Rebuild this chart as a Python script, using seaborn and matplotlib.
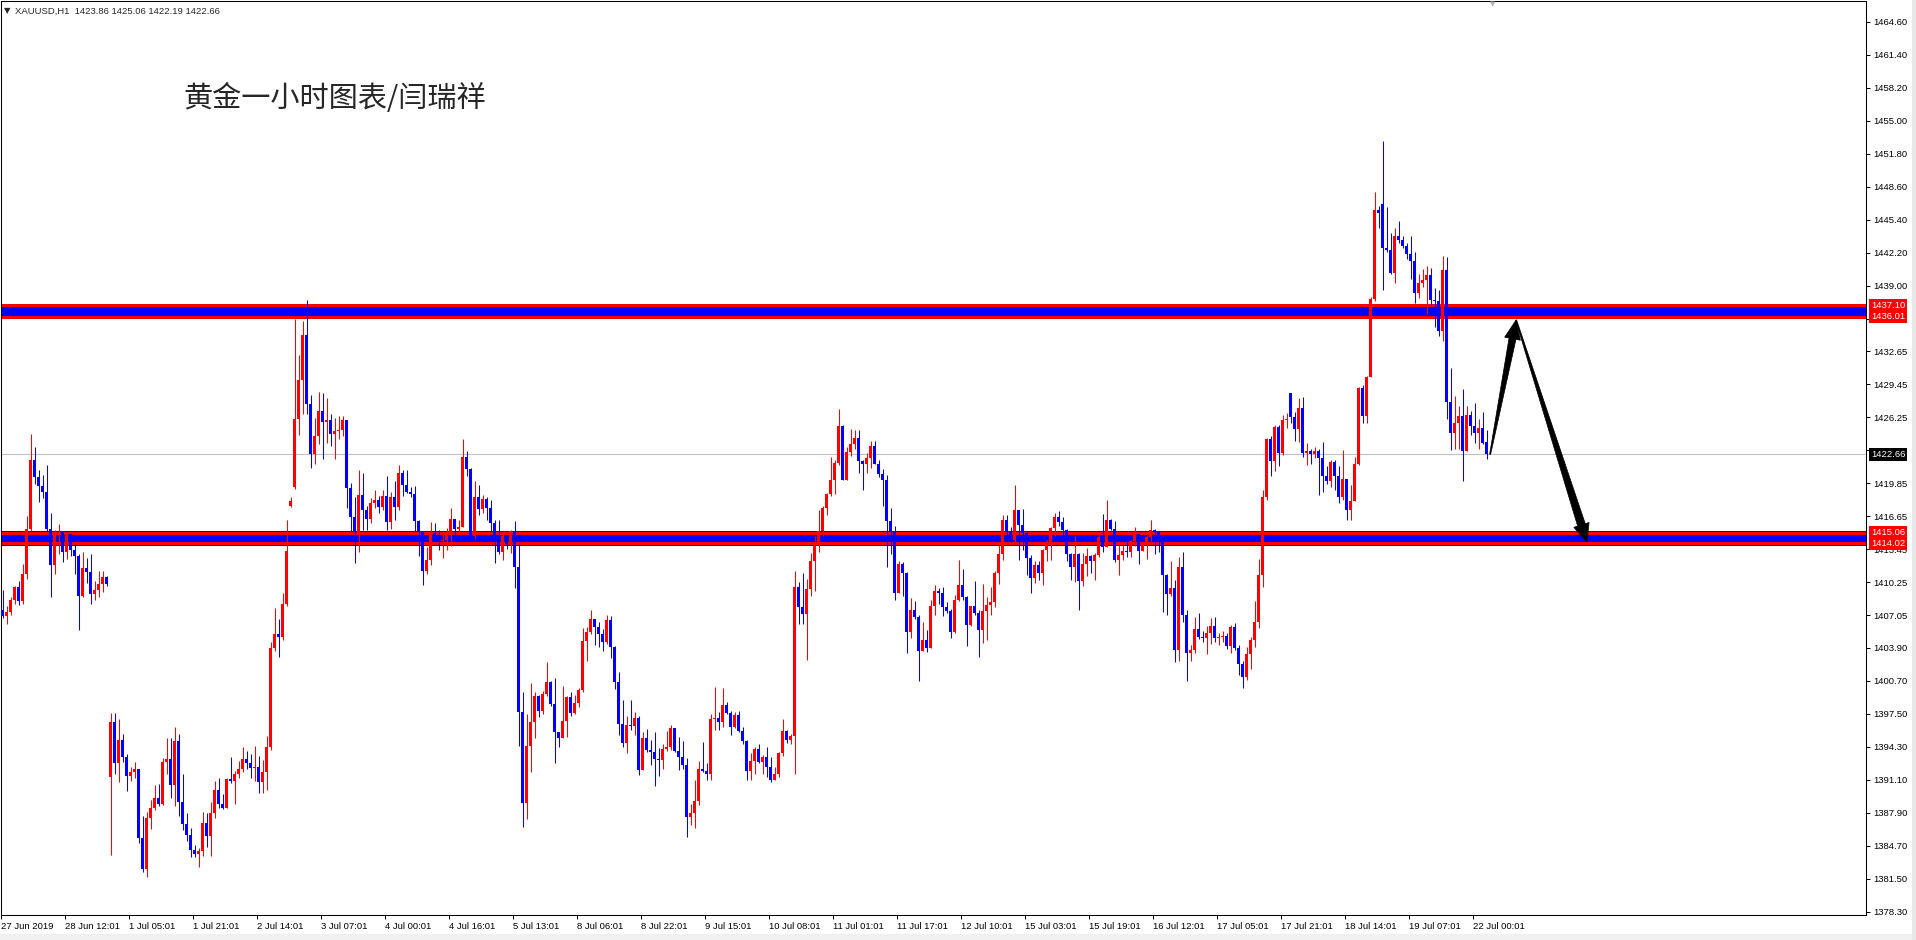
import matplotlib
matplotlib.use("Agg")
import matplotlib.pyplot as plt
import numpy as np
import pandas as pd
import seaborn as sns
from matplotlib.patches import Polygon, Rectangle
from matplotlib.transforms import IdentityTransform

# XAUUSD H1, one value per hourly bar (open = previous close unless listed)
closes = [
    1407.0, 1407.4, 1408.5, 1409.8, 1408.4, 1411.1, 1415.4, 1422.1, 1420.5, 1419.6,
    1419.0, 1415.4, 1411.9, 1414.9, 1415.1, 1413.2, 1414.9, 1413.4, 1412.8, 1408.9,
    1411.6, 1411.3, 1409.1, 1409.5, 1410.1, 1410.8, 1410.1, 1396.7, 1392.7, 1395.0,
    1393.3, 1391.5, 1391.9, 1392.2, 1385.5, 1382.5, 1387.4, 1388.4, 1389.3, 1388.8,
    1392.8, 1393.1, 1390.6, 1394.9, 1389.0, 1386.8, 1385.8, 1384.3, 1383.9, 1384.2,
    1386.9, 1385.7, 1387.9, 1390.1, 1388.8, 1388.4, 1391.2, 1391.0, 1391.7, 1392.2,
    1393.1, 1392.7, 1392.3, 1392.4, 1390.9, 1391.9, 1394.3, 1403.9, 1405.2, 1405.0,
    1408.2, 1413.3, 1418.1, 1426.1, 1429.9, 1434.2, 1427.5, 1422.7, 1424.4, 1426.9,
    1425.8, 1426.0, 1424.6, 1424.9, 1425.0, 1426.0, 1419.4, 1416.6, 1415.1, 1418.7,
    1417.3, 1416.4, 1417.9, 1418.2, 1417.6, 1418.6, 1416.1, 1418.5, 1417.6, 1420.9,
    1419.7, 1419.0, 1418.8, 1416.2, 1415.2, 1411.4, 1412.4, 1415.0, 1414.5, 1414.3,
    1414.4, 1414.9, 1416.4, 1415.4, 1415.6, 1422.4, 1421.2, 1414.7, 1418.5, 1417.4,
    1418.3, 1417.5, 1416.0, 1414.7, 1413.2, 1414.7, 1414.0, 1415.2, 1411.7, 1397.7,
    1388.9, 1394.4, 1396.7, 1399.2, 1397.8, 1399.4, 1400.6, 1398.5, 1395.7, 1395.2,
    1396.8, 1399.1, 1397.6, 1398.6, 1399.8, 1404.6, 1405.4, 1406.7, 1405.9, 1405.2,
    1404.5, 1406.6, 1404.0, 1400.6, 1396.5, 1394.7, 1396.4, 1396.3, 1397.1, 1392.1,
    1395.2, 1394.0, 1393.8, 1393.1, 1393.0, 1394.1, 1394.3, 1396.1, 1393.9, 1393.3,
    1392.5, 1387.5, 1387.9, 1389.1, 1392.2, 1392.0, 1391.7, 1397.0, 1397.1, 1396.7,
    1398.4, 1397.6, 1396.2, 1397.4, 1395.8, 1394.9, 1392.0, 1392.9, 1394.1, 1392.8,
    1393.3, 1392.4, 1391.1, 1391.7, 1393.7, 1395.8, 1395.0, 1395.4, 1409.8, 1407.9,
    1407.2, 1409.6, 1412.3, 1413.9, 1415.2, 1417.5, 1418.8, 1420.2, 1421.8, 1425.4,
    1420.2, 1422.9, 1423.7, 1424.2, 1422.0, 1421.7, 1422.3, 1423.5, 1421.7, 1420.8,
    1420.2, 1416.2, 1415.2, 1409.2, 1412.0, 1411.2, 1405.4, 1407.6, 1406.9, 1403.6,
    1404.7, 1403.9, 1408.0, 1409.4, 1409.2, 1407.9, 1407.5, 1405.4, 1408.5, 1410.0,
    1408.8, 1406.1, 1408.0, 1407.3, 1405.6, 1407.5, 1408.1, 1408.3, 1411.2, 1413.0,
    1416.3, 1415.2, 1414.4, 1417.3, 1415.8, 1415.0, 1412.6, 1410.7, 1411.9, 1411.2,
    1413.4, 1413.9, 1415.5, 1416.6, 1416.1, 1415.3, 1413.0, 1411.7, 1413.0, 1410.4,
    1412.0, 1412.8, 1412.3, 1412.9, 1414.6, 1413.7, 1416.3, 1415.4, 1412.4, 1412.9,
    1413.3, 1413.2, 1414.3, 1414.9, 1413.3, 1413.9, 1414.6, 1415.3, 1415.1, 1414.7,
    1411.0, 1409.1, 1409.7, 1403.7, 1411.7, 1407.1, 1403.4, 1403.7, 1405.7, 1405.0,
    1404.9, 1405.3, 1406.0, 1404.9, 1405.0, 1405.1, 1404.1, 1405.9, 1403.9, 1402.3,
    1401.1, 1403.3, 1404.7, 1406.4, 1411.0, 1418.5, 1424.1, 1422.0, 1425.3, 1422.8,
    1426.0, 1426.1, 1426.3, 1425.1, 1427.2, 1422.8, 1423.0, 1422.7, 1423.0, 1422.3,
    1420.6, 1420.1, 1421.9, 1420.6, 1418.5, 1420.3, 1417.3, 1418.1, 1421.7, 1429.1,
    1426.4, 1430.2, 1437.7, 1446.3, 1446.1, 1442.7, 1442.5, 1440.2, 1443.8, 1443.4,
    1442.9, 1442.1, 1441.4, 1438.3, 1439.3, 1439.6, 1440.0, 1437.6, 1437.5, 1434.6,
    1440.5, 1427.7, 1424.7, 1425.7, 1426.4, 1423.0, 1426.5, 1425.4, 1424.7, 1425.2,
    1423.8, 1422.66,
]
highs = [
    1409.5, 1408.0, 1408.8, 1409.9, 1410.4, 1412.0, 1416.7, 1424.6, 1423.4, 1421.1,
    1420.7, 1421.6, 1417.0, 1415.3, 1415.9, 1414.9, 1415.0, 1414.3, 1414.0, 1413.0,
    1413.2, 1412.6, 1413.0, 1410.4, 1411.4, 1411.4, 1410.9, 1397.6, 1397.6, 1397.0,
    1395.6, 1393.6, 1392.4, 1392.8, 1392.2, 1387.6, 1388.0, 1389.2, 1390.6, 1390.7,
    1393.2, 1395.2, 1395.2, 1396.2, 1395.6, 1391.7, 1387.9, 1386.4, 1384.8, 1384.5,
    1388.0, 1387.9, 1389.0, 1391.0, 1391.3, 1389.7, 1391.3, 1393.3, 1392.0, 1392.9,
    1394.3, 1393.9, 1393.6, 1394.4, 1393.4, 1393.0, 1395.4, 1404.5, 1407.8, 1406.7,
    1409.2, 1416.3, 1418.5, 1435.8, 1432.3, 1435.6, 1437.6, 1428.4, 1426.2, 1428.7,
    1428.6, 1428.1, 1426.6, 1426.2, 1426.4, 1426.4, 1426.0, 1419.9, 1418.5, 1421.1,
    1420.9, 1417.7, 1418.4, 1419.2, 1418.6, 1419.2, 1420.6, 1419.0, 1420.1, 1421.6,
    1421.1, 1421.1, 1419.5, 1419.6, 1416.3, 1415.2, 1413.7, 1416.1, 1416.0, 1415.3,
    1414.9, 1415.5, 1417.5, 1416.4, 1416.3, 1424.1, 1423.0, 1421.3, 1420.1, 1419.7,
    1418.7, 1418.5, 1418.2, 1416.3, 1416.3, 1415.0, 1414.5, 1415.3, 1416.2, 1413.9,
    1399.6, 1397.5, 1400.5, 1399.6, 1399.3, 1399.7, 1402.5, 1400.7, 1401.0, 1395.6,
    1400.2, 1399.2, 1399.6, 1399.3, 1400.0, 1405.8, 1405.9, 1407.6, 1406.7, 1406.4,
    1405.7, 1407.1, 1407.0, 1404.1, 1401.6, 1398.8, 1397.3, 1398.8, 1397.7, 1397.3,
    1395.7, 1396.0, 1395.0, 1395.7, 1394.2, 1394.6, 1395.8, 1396.4, 1396.1, 1395.3,
    1394.9, 1393.2, 1388.8, 1391.1, 1392.9, 1394.8, 1392.7, 1397.5, 1400.1, 1397.7,
    1400.0, 1398.7, 1397.8, 1397.7, 1397.8, 1396.2, 1395.0, 1393.7, 1394.3, 1394.6,
    1393.5, 1394.3, 1393.3, 1392.4, 1393.8, 1397.0, 1395.9, 1395.6, 1411.4, 1410.3,
    1411.2, 1410.6, 1413.1, 1414.7, 1417.3, 1417.7, 1418.9, 1422.4, 1422.1, 1427.1,
    1425.5, 1423.4, 1425.1, 1425.0, 1425.0, 1422.1, 1422.8, 1424.0, 1424.0, 1422.1,
    1421.2, 1420.7, 1417.5, 1415.7, 1412.3, 1412.2, 1411.3, 1408.7, 1408.4, 1407.1,
    1406.4, 1405.6, 1408.5, 1410.0, 1409.7, 1409.8, 1408.3, 1407.7, 1409.0, 1412.4,
    1411.5, 1408.9, 1408.0, 1410.4, 1407.6, 1410.1, 1408.8, 1409.8, 1411.4, 1413.9,
    1416.8, 1416.8, 1415.6, 1419.7, 1417.3, 1417.4, 1415.2, 1412.9, 1412.3, 1412.3,
    1413.5, 1414.4, 1415.6, 1417.0, 1417.2, 1416.6, 1415.4, 1413.1, 1414.7, 1413.1,
    1413.1, 1413.6, 1412.9, 1413.1, 1415.2, 1416.9, 1418.2, 1416.4, 1416.2, 1414.3,
    1413.9, 1414.4, 1414.4, 1415.6, 1414.7, 1414.3, 1414.8, 1416.3, 1415.4, 1415.2,
    1414.7, 1411.1, 1412.3, 1410.5, 1412.7, 1413.2, 1407.6, 1404.2, 1406.9, 1407.3,
    1405.5, 1406.0, 1406.8, 1406.9, 1405.3, 1405.5, 1405.3, 1406.1, 1406.3, 1404.2,
    1402.6, 1404.0, 1405.0, 1408.4, 1412.5, 1419.2, 1424.2, 1424.4, 1425.5, 1425.5,
    1426.5, 1426.7, 1428.6, 1426.8, 1428.1, 1428.2, 1423.8, 1423.2, 1423.4, 1423.2,
    1423.9, 1421.5, 1422.1, 1422.1, 1421.5, 1423.1, 1420.3, 1419.7, 1422.4, 1429.2,
    1429.4, 1430.3, 1437.9, 1448.1, 1446.7, 1453.0, 1446.6, 1444.1, 1444.6, 1445.3,
    1443.8, 1443.1, 1443.8, 1442.3, 1440.1, 1440.6, 1440.9, 1440.7, 1438.8, 1438.6,
    1441.9, 1441.8, 1431.0, 1428.3, 1427.3, 1429.0, 1427.3, 1426.9, 1427.6, 1426.1,
    1426.8, 1425.06,
]
lows = [
    1406.8, 1406.2, 1407.1, 1408.2, 1408.1, 1408.2, 1410.6, 1415.2, 1419.8, 1418.0,
    1418.4, 1415.2, 1408.8, 1411.1, 1413.0, 1412.2, 1412.5, 1412.8, 1411.1, 1405.6,
    1408.8, 1410.2, 1408.2, 1408.5, 1408.8, 1409.3, 1409.9, 1383.8, 1391.7, 1390.9,
    1392.8, 1390.0, 1391.0, 1391.3, 1385.0, 1382.2, 1381.7, 1386.3, 1388.2, 1388.6,
    1388.7, 1391.7, 1389.3, 1388.6, 1387.6, 1386.2, 1385.2, 1383.6, 1383.6, 1382.7,
    1383.7, 1384.6, 1383.7, 1387.4, 1388.4, 1388.3, 1388.4, 1390.8, 1388.8, 1391.3,
    1391.9, 1392.2, 1391.3, 1391.0, 1389.8, 1389.8, 1390.1, 1394.0, 1403.6, 1403.0,
    1404.7, 1408.0, 1417.6, 1419.3, 1424.5, 1426.6, 1426.6, 1421.3, 1421.7, 1423.7,
    1422.2, 1423.8, 1423.5, 1422.2, 1424.1, 1424.4, 1417.5, 1415.2, 1412.1, 1413.2,
    1415.3, 1415.3, 1416.0, 1417.5, 1417.0, 1417.3, 1415.3, 1415.4, 1416.3, 1417.3,
    1418.6, 1418.9, 1418.5, 1415.2, 1412.8, 1410.0, 1411.1, 1411.9, 1414.3, 1413.4,
    1412.6, 1413.4, 1413.8, 1414.7, 1415.0, 1415.6, 1420.6, 1414.7, 1414.5, 1416.8,
    1417.0, 1416.3, 1415.2, 1412.1, 1413.0, 1412.4, 1413.5, 1413.1, 1409.7, 1394.4,
    1386.5, 1387.3, 1391.9, 1395.2, 1397.2, 1397.5, 1399.2, 1398.3, 1392.7, 1394.3,
    1395.2, 1395.3, 1397.3, 1397.5, 1398.2, 1399.6, 1402.6, 1405.2, 1404.2, 1404.0,
    1403.6, 1404.3, 1402.9, 1399.9, 1395.5, 1394.3, 1393.7, 1395.9, 1395.5, 1391.6,
    1392.1, 1393.8, 1392.5, 1390.5, 1391.5, 1392.2, 1393.9, 1394.0, 1393.8, 1392.1,
    1392.2, 1385.6, 1386.7, 1386.4, 1388.7, 1391.9, 1391.1, 1391.1, 1395.9, 1395.9,
    1396.2, 1397.5, 1395.5, 1396.1, 1395.7, 1394.6, 1391.1, 1391.1, 1391.7, 1392.7,
    1391.7, 1391.4, 1390.9, 1391.1, 1391.4, 1393.4, 1394.7, 1394.6, 1391.7, 1406.2,
    1406.2, 1402.7, 1408.9, 1409.4, 1413.2, 1414.7, 1416.8, 1418.6, 1418.8, 1421.6,
    1420.2, 1420.2, 1422.5, 1423.2, 1420.9, 1419.2, 1420.9, 1421.3, 1421.7, 1420.5,
    1417.7, 1411.7, 1413.0, 1408.5, 1409.2, 1408.9, 1403.4, 1404.9, 1406.7, 1400.7,
    1403.7, 1403.5, 1403.9, 1407.1, 1408.2, 1407.0, 1407.3, 1404.9, 1405.3, 1408.4,
    1408.5, 1404.1, 1406.0, 1407.1, 1403.0, 1404.4, 1404.7, 1407.1, 1407.9, 1410.1,
    1412.4, 1414.3, 1414.2, 1414.2, 1412.4, 1413.4, 1411.0, 1409.2, 1410.2, 1410.5,
    1410.0, 1412.3, 1412.4, 1414.7, 1415.7, 1414.6, 1412.3, 1410.5, 1410.3, 1407.6,
    1409.9, 1410.9, 1411.2, 1410.5, 1412.7, 1413.2, 1413.7, 1415.3, 1412.2, 1411.0,
    1412.4, 1412.7, 1412.7, 1413.8, 1412.0, 1413.3, 1412.5, 1414.3, 1413.0, 1413.2,
    1407.4, 1407.1, 1408.9, 1402.5, 1402.6, 1406.4, 1400.7, 1402.6, 1403.4, 1404.8,
    1404.5, 1403.3, 1404.3, 1404.5, 1404.2, 1404.5, 1403.8, 1403.4, 1403.7, 1401.3,
    1400.0, 1400.8, 1401.9, 1404.0, 1405.8, 1409.8, 1418.2, 1420.6, 1421.0, 1421.5,
    1422.6, 1425.2, 1425.7, 1424.0, 1423.9, 1422.4, 1421.6, 1421.7, 1422.3, 1418.7,
    1419.0, 1419.8, 1419.5, 1419.2, 1417.9, 1418.2, 1416.3, 1416.3, 1418.1, 1421.6,
    1425.7, 1425.7, 1430.2, 1437.5, 1444.6, 1438.6, 1442.3, 1440.1, 1439.3, 1443.1,
    1442.7, 1441.6, 1439.7, 1437.3, 1437.8, 1438.9, 1436.3, 1437.1, 1435.0, 1434.1,
    1433.6, 1426.1, 1423.1, 1423.2, 1423.2, 1420.1, 1423.0, 1424.5, 1423.8, 1423.2,
    1423.7, 1422.19,
]
# opens that differ from the previous close (first bar, gaps, last bar)
open_overrides = {0: 1407.6, 27: 1391.4, 72: 1417.7, 73: 1419.5,
                  322: 1428.6, 345: 1446.9, 371: 1423.86}

price_ticks = [1464.60, 1461.40, 1458.20, 1455.00, 1451.80, 1448.60, 1445.40,
               1442.20, 1439.00, 1435.80, 1432.65, 1429.45, 1426.25, 1423.05,
               1419.85, 1416.65, 1413.45, 1410.25, 1407.05, 1403.90, 1400.70,
               1397.50, 1394.30, 1391.10, 1387.90, 1384.70, 1381.50, 1378.30]
time_tick_bars = list(range(0, 369, 16))
time_tick_labels = ["27 Jun 2019", "28 Jun 12:01", "1 Jul 05:01", "1 Jul 21:01",
                    "2 Jul 14:01", "3 Jul 07:01", "4 Jul 00:01", "4 Jul 16:01",
                    "5 Jul 13:01", "8 Jul 06:01", "8 Jul 22:01", "9 Jul 15:01",
                    "10 Jul 08:01", "11 Jul 01:01", "11 Jul 17:01", "12 Jul 10:01",
                    "15 Jul 03:01", "15 Jul 19:01", "16 Jul 12:01", "17 Jul 05:01",
                    "17 Jul 21:01", "18 Jul 14:01", "19 Jul 07:01", "22 Jul 00:01"]
resistance = (1437.10, 1436.01)
support = (1415.06, 1414.02)
last_price = 1422.66
# projected path: from last bar up to resistance, then down to support
path_bars = [371.9, 378.4, 396.1]
path_prices = [1422.66, 1435.68, 1414.16]

title = "黄金一小时图表/闫瑞祥"
header = "XAUUSD,H1  1423.86 1425.06 1422.19 1422.66"

n = len(closes)
opens = [open_overrides.get(i, closes[i - 1] if i else closes[0]) for i in range(n)]
df = pd.DataFrame({"bar": np.arange(n), "open": opens, "high": highs,
                   "low": lows, "close": closes})
df["high"] = df[["high", "open", "close"]].max(axis=1)
df["low"] = df[["low", "open", "close"]].min(axis=1)
df["up"] = df["close"] >= df["open"]

sns.set_style("white")
plt.rcParams["font.family"] = ["Liberation Sans", "DejaVu Sans"]

W, H = 1916, 940
fig = plt.figure(figsize=(W / 100, H / 100), dpi=100)
ax = fig.add_axes([1 / W, 1 - 915 / H, 1865 / W, 914 / H])
ax.set_xlim(-0.375, -0.375 + 1865 / 4)
ax.set_ylim(1378.006, 1466.607)

RED, BLUE = "#ff0000", "#0000ff"
colors = np.where(df["up"], RED, BLUE)

# zones (drawn under the candles)
for hi, lo in (resistance, support):
    ax.axhspan(lo - 0.25, hi + 0.15, color=BLUE, lw=0, zorder=1)
    ax.axhline(hi, color=RED, lw=2.16, zorder=1.5)
    ax.axhline(lo, color=RED, lw=2.16, zorder=1.5)
ax.axhline(last_price, color="#c0c0c0", lw=0.8, zorder=0.8)

# candles
ax.vlines(df["bar"], df["low"], df["high"], colors=colors, lw=0.75, zorder=3)
body = np.maximum((df["close"] - df["open"]).abs(), 0.1)
ax.bar(df["bar"], body, bottom=df[["open", "close"]].min(axis=1), width=0.75,
       color=colors, lw=0, zorder=4)

# axes styling
for s in ax.spines.values():
    s.set_color("black")
    s.set_linewidth(0.75)
ax.yaxis.tick_right()
ax.set_yticks(price_ticks)
ax.set_yticklabels([f"{v:.2f}" for v in price_ticks])
ax.set_xticks(np.array(time_tick_bars) - 0.4)
ax.set_xticklabels(time_tick_labels, ha="left")
ax.tick_params(axis="y", direction="out", length=3, width=0.7, pad=2,
               labelsize=6.8, colors="black", right=True, left=False)
ax.tick_params(axis="x", direction="out", length=3, width=0.7, pad=2,
               labelsize=6.8, colors="black", bottom=True)

# price labels on the axis
tr = ax.get_yaxis_transform()
for val in resistance + support:
    ax.text(1.0027, val, f"{val:.2f}", transform=tr, ha="left", va="center",
            fontsize=6.8, color="white", clip_on=False, zorder=10,
            bbox=dict(boxstyle="square,pad=0.22", fc=RED, ec="none"))
ax.text(1.0027, last_price, f"{last_price:.2f}", transform=tr, ha="left",
        va="center", fontsize=6.8, color="white", clip_on=False, zorder=10,
        bbox=dict(boxstyle="square,pad=0.22", fc="black", ec="none"))


# tapered arrows, built in pixel space
def arrow(p_from, p_to, w_tail, w_shaft, head_w, head_len):
    a = ax.transData.transform(p_from)
    b = ax.transData.transform(p_to)
    d = b - a
    u = d / np.hypot(*d)
    nrm = np.array([-u[1], u[0]])
    base = b - u * head_len
    pts = [a + nrm * w_tail / 2, base + nrm * w_shaft / 2, base + nrm * head_w / 2,
           b, base - nrm * head_w / 2, base - nrm * w_shaft / 2, a - nrm * w_tail / 2]
    ax.add_patch(Polygon(pts, closed=True, fc="black", ec="black", lw=0.5,
                         transform=IdentityTransform(), zorder=6))


arrow((path_bars[0], path_prices[0]), (path_bars[1], path_prices[1]), 1.0, 7, 16, 19)
arrow((path_bars[1], path_prices[1]), (path_bars[2], path_prices[2]), 1.0, 8, 16, 18)


def fx(px):
    return px / W


def fy(py):
    return 1 - py / H


fig.text(fx(4), fy(11), "▼", fontsize=6, va="center", ha="left",
         family=["DejaVu Sans"])
fig.text(fx(15), fy(11), header, fontsize=6.8, va="center", ha="left")
fig.text(fx(1493), fy(4), "▼", fontsize=5, va="center", ha="center",
         color="#b0b0b0", family=["DejaVu Sans"])
fig.text(fx(183), fy(99), title, fontsize=21, va="center", ha="left",
         fontweight="light", family=["Noto Sans CJK SC", "DejaVu Sans"])

# window strip below the chart
fig.patches.append(Rectangle((0, 0), 1, 6 / H, transform=fig.transFigure,
                             fc="#f0f0f0", ec="none"))
fig.patches.append(Rectangle((fx(1912), 0), 4 / W, 1, transform=fig.transFigure,
                             fc="#e8e8e8", ec="none"))

fig.savefig("out.png", dpi=100)
